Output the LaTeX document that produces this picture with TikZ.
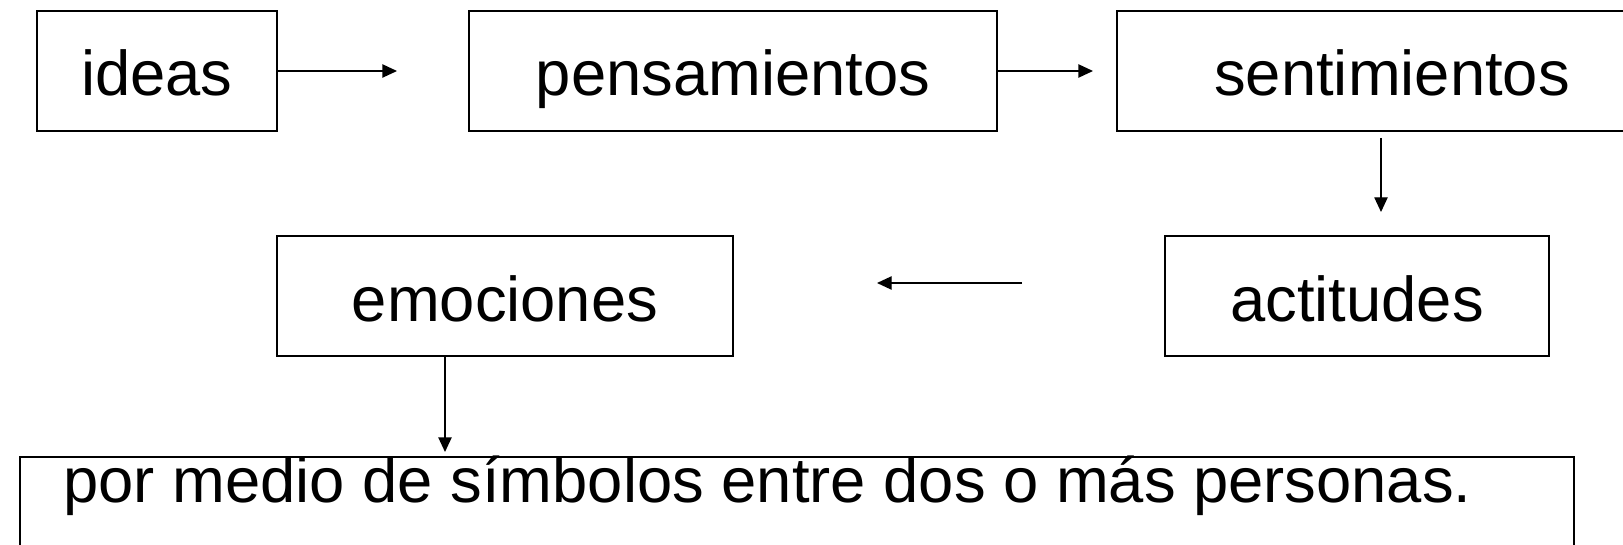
\documentclass[tikz,border=0pt]{standalone}
\usepackage{fontspec}
\setmainfont{Liberation Sans}
\usetikzlibrary{arrows.meta}

\tikzset{every picture/.style={line width=0.75pt}}
\tikzset{
  caja/.style={draw, line width=1.2pt, inner sep=0pt, text height=37.5pt, text depth=0pt, minimum height=90pt},
  flecha/.style={line width=1pt, -{Triangle[length=11pt,width=10pt]}},
  letra/.style={font=\fontsize{47.5pt}{57pt}\selectfont}
}

\begin{document}
\begin{tikzpicture}[x=0.75pt,y=0.75pt,yscale=-1,xscale=1]
\useasboundingbox (0,0) rectangle (1623,545);

%Shape: Rectangle [ideas]
\node [caja, letra, minimum width=180pt] (ideas) at (157,71) {ideas};
%Shape: Rectangle [pensamientos]
\node [caja, letra, minimum width=396pt] (pensamientos) at (733,71) {pensamientos};
%Shape: Rectangle [sentimientos]
\node [caja, letra, minimum width=412.5pt] (sentimientos) at (1392,71) {sentimientos};
%Shape: Rectangle [actitudes]
\node [caja, letra, minimum width=288pt] (actitudes) at (1357,296) {actitudes};
%Shape: Rectangle [emociones]
\node [caja, letra, minimum width=342pt] (emociones) at (505,296) {emociones};
%Shape: Rectangle [comunicacion]
\node [draw, line width=1.2pt, inner sep=0pt, minimum width=1165.5pt, minimum height=78.75pt, anchor=north west] (comunicacion) at (19,456) {};
%Text Node
\node [letra, inner sep=0pt, anchor=base west] (frase) at (63,502) {por medio de símbolos entre dos o más personas.};

%Straight Lines
\coordinate (f1) at (397,71);
\draw [flecha] (ideas.east) -- (f1);
%Straight Lines
\coordinate (f2) at (1093,71);
\draw [flecha] (pensamientos.east) -- (f2);
%Straight Lines
\coordinate (f3a) at (1381,138);
\coordinate (f3b) at (1381,212);
\draw [flecha] (f3a) -- (f3b);
%Straight Lines
\coordinate (f4a) at (1022,283);
\coordinate (f4b) at (877,283);
\draw [flecha] (f4a) -- (f4b);
%Straight Lines
\coordinate (f5) at (445,452);
\draw [flecha] (emociones.south -| f5) -- (f5);

\end{tikzpicture}
\end{document}
